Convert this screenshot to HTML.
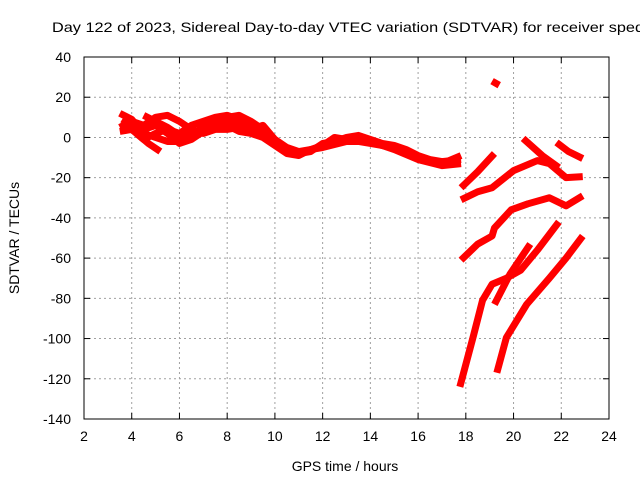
<!DOCTYPE html>
<html><head><meta charset="utf-8"><style>
body{margin:0;background:#fff}
svg{display:block;font-family:"Liberation Sans",sans-serif}
</style></head><body>
<svg id="chart" width="640" height="480" viewBox="0 0 640 480" xmlns="http://www.w3.org/2000/svg">
<text x="52" y="32" font-size="14" textLength="592" lengthAdjust="spacingAndGlyphs">Day 122 of 2023, Sidereal Day-to-day VTEC variation (SDTVAR) for receiver sped</text>
<g id="grid"></g>
<g id="series"></g>
<rect x="84" y="57" width="525" height="362" fill="none" stroke="#000" stroke-width="1"/>
<g id="ticks"></g>
<text transform="translate(19,238) rotate(-90)" text-anchor="middle" font-size="14">SDTVAR / TECUs</text>
<text x="345" y="471" text-anchor="middle" font-size="14">GPS time / hours</text>
</svg>
<script>
const xTicks=[2,4,6,8,10,12,14,16,18,20,22,24];
const yTicks=[40,20,0,-20,-40,-60,-80,-100,-120,-140];
const trackA=[[3.5,5],[4,8],[4.5,6],[5,10],[5.5,11],[6,8],[6.5,4],[7,2],[7.5,4],[8,4],[8.5,5],[9,5],[9.5,2],[10,-3],[10.5,-6],[11,-8],[11.5,-7],[12,-3],[12.5,-2],[13,0],[13.5,1],[14,-1],[14.5,-3],[15,-4],[15.5,-6],[16,-9],[16.5,-11],[17,-12],[17.8,-11]];
const trackB=[[3.5,12],[4,9],[4.5,2],[5,0],[5.5,-2],[6,-2],[6.5,0],[7,6],[7.5,9],[8,10],[8.5,11],[9,8],[9.5,4]];
const trackC=[[3.5,3],[4,4],[4.5,-1],[5,2],[5.5,4],[6,2],[6.5,6],[7,8],[7.5,10],[8,11],[8.5,9],[9,6],[9.5,3]];
const trackD=[[4.2,2],[4.7,-3],[5.2,-7]];
const trackE=[[4.5,11],[5,8],[5.5,5],[6,1],[6.5,2],[7,4],[7.5,6],[8,6],[8.5,3],[9,2],[9.5,0],[10,-4],[10.5,-8],[11,-9],[11.5,-6],[12,-4],[12.5,0],[13,-1],[13.5,-2],[14,-3],[15,-5],[16,-10],[17,-13],[17.8,-9]];
const trackO=[[3.6,9],[4,6],[4.5,4],[5,6],[5.5,2],[6,-3],[6.5,-1],[7,3],[7.5,5],[8,8],[8.5,7],[9,4],[9.5,6],[10,-1],[10.5,-5],[11,-7],[12,-5],[13,-2],[14,-2],[15,-6],[16,-11],[17,-14],[17.8,-13]];
const trackF=[[19.1,28],[19.4,26]];
const trackG=[[17.8,-25],[18.5,-17],[19.2,-8]];
const trackH=[[17.8,-31],[18.5,-27],[19.1,-25],[20,-16.5],[21,-11.5],[21.5,-13],[22.2,-20],[22.9,-19.5]];
const trackI=[[20.4,-0.5],[21.2,-9],[21.9,-15]];
const trackJ=[[21.8,-2.5],[22.3,-7],[22.9,-10.5]];
const trackK=[[17.8,-61],[18.5,-53],[19.1,-49],[19.2,-45],[19.9,-36],[20.6,-33],[21.5,-30],[22.2,-34],[22.9,-29]];
const trackL=[[17.75,-124],[18.3,-99.5],[18.7,-81],[19.1,-73],[19.7,-70],[20.3,-66],[21,-56],[21.9,-42]];
const trackM=[[19.2,-83],[19.85,-68],[20.7,-53]];
const trackN=[[19.3,-117],[19.7,-99.5],[20.55,-83],[21.5,-70],[22.2,-60],[22.9,-49]];
const tracks=[trackA,trackB,trackC,trackD,trackE,trackO,trackF,trackG,trackH,trackI,trackJ,trackK,trackL,trackM,trackN];
const L=84,R=609,T=57,B=419;
const xs=v=>L+(v-2)/22*(R-L);
const ys=v=>T+(40-v)/180*(B-T);
const NS="http://www.w3.org/2000/svg";
const grid=document.getElementById('grid'),ticks=document.getElementById('ticks'),ser=document.getElementById('series');
function mk(t,a,p){const e=document.createElementNS(NS,t);for(const k in a)e.setAttribute(k,a[k]);p.appendChild(e);return e;}
xTicks.forEach(v=>{const x=xs(v);
 if(v>2&&v<24){const g=mk('line',{x1:x,x2:x,y1:T,y2:B,stroke:'#a0a0a0','stroke-dasharray':'2,3','stroke-width':1},grid);
 
 }
 const t1=mk('line',{x1:x,x2:x,y1:B,y2:B-6,stroke:'#000'},ticks);
 
 
 const t2=mk('line',{x1:x,x2:x,y1:T,y2:T+6,stroke:'#000'},ticks);
 
 
 const l=mk('text',{x:x,y:B+22,'text-anchor':'middle','font-size':14},ticks);l.textContent=v;
 
 
});
yTicks.forEach(v=>{const y=ys(v);
 if(v<40&&v>-140){const g=mk('line',{x1:L,x2:R,y1:y,y2:y,stroke:'#a0a0a0','stroke-dasharray':'2,3','stroke-width':1},grid);
 
 }
 const t1=mk('line',{x1:L,x2:L+6,y1:y,y2:y,stroke:'#000'},ticks);
 
 
 const t2=mk('line',{x1:R,x2:R-6,y1:y,y2:y,stroke:'#000'},ticks);
 
 
 const l=mk('text',{x:L-13,y:y+5,'text-anchor':'end','font-size':14},ticks);l.textContent=v;
 
 
});
tracks.forEach(tr=>{
 const p=mk('polyline',{points:tr.map(d=>xs(d[0])+','+ys(d[1])).join(' '),fill:'none',stroke:'#ff0000','stroke-width':7,'stroke-linejoin':'round','stroke-linecap':'butt'},ser);
 
 
});
</script>
</body></html>
